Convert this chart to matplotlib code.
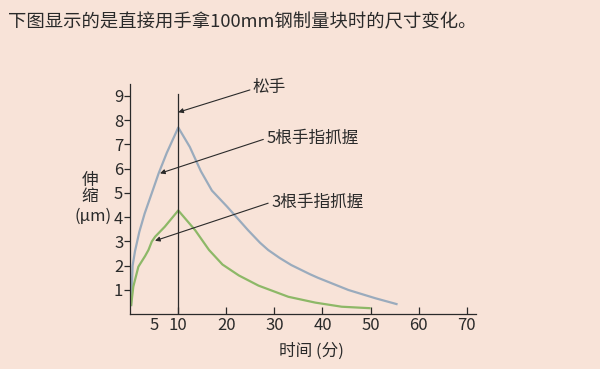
import matplotlib
matplotlib.use("Agg")
import matplotlib.pyplot as plt

plt.rcParams['font.family'] = ['Noto Sans CJK SC', 'DejaVu Sans']

BG = "#f8e3d8"
INK = "#2a2a2a"

# 5根手指抓握 (grey-blue curve)
five_t = [0.2, 0.5, 1.0, 1.9, 3.0, 4.5, 5.9, 7.6, 10,
          12.4, 14.7, 17.0, 20.1, 22.8, 24.5, 27.0, 28.7, 31.1, 33.5,
          37.4, 39.1, 45.4, 51.0, 55.4]
five_v = [0.38, 2.0, 2.6, 3.4, 4.15, 5.0, 5.8, 6.65, 7.7,
          6.9, 5.9, 5.1, 4.45, 3.85, 3.47, 2.95, 2.65, 2.32, 2.03,
          1.65, 1.5, 1.0, 0.66, 0.42]

# 3根手指抓握 (green curve)
three_t = [0.2, 0.65, 1.7, 3.1, 3.8, 4.5, 5.2, 7.2, 10,
           13.5, 16.4, 19.2, 22.6, 26.7, 32.9, 38.5, 44.0, 49.8]
three_v = [0.38, 1.14, 1.96, 2.4, 2.65, 3.0, 3.2, 3.61, 4.28,
           3.47, 2.65, 2.05, 1.6, 1.18, 0.72, 0.48, 0.31, 0.25]

x_ticks = [5, 10, 20, 30, 40, 50, 60, 70]
y_ticks = [1, 2, 3, 4, 5, 6, 7, 8, 9]
release_t = 10

fig = plt.figure(figsize=(6, 3.69), dpi=100, facecolor=BG)
ax = fig.add_axes([0.217, 0.1484, 0.5768, 0.6243])
ax.set_facecolor(BG)

ax.plot(five_t, five_v, color="#9aabbd", lw=1.6, solid_joinstyle="round")
ax.plot(three_t, three_v, color="#8db867", lw=1.6, solid_joinstyle="round")
ax.plot([release_t, release_t], [0, 9.1], color=INK, lw=0.9)

ax.set_xlim(0, 72)
ax.set_ylim(0, 9.5)
for s in ["top", "right"]:
    ax.spines[s].set_visible(False)
for s in ["left", "bottom"]:
    ax.spines[s].set_color(INK)
    ax.spines[s].set_linewidth(0.9)

ax.set_xticks(x_ticks)
ax.set_yticks(y_ticks)
ax.tick_params(axis="x", direction="in", length=5, width=0.9, color=INK,
               labelsize=12, labelcolor=INK, pad=2)
ax.tick_params(axis="y", direction="out", length=4, width=0.9, color=INK,
               labelsize=12, labelcolor=INK, pad=1)
ax.xaxis.get_major_ticks()[0].tick1line.set_visible(False)

arrow = dict(arrowstyle="-|>", lw=0.8, color=INK, mutation_scale=7,
             shrinkA=0, shrinkB=0)
notes = [
    ("松手", (10, 8.33), (24.9, 9.25), (25.5, 9.33)),
    ("5根手指抓握", (6.2, 5.81), (27.7, 7.21), (28.3, 7.27)),
    ("3根手指抓握", (5.16, 3.03), (28.7, 4.58), (29.3, 4.6)),
]
for label, end, start, txt in notes:
    ax.annotate("", xy=end, xytext=start, arrowprops=arrow, annotation_clip=False)
    ax.text(txt[0], txt[1], label, fontsize=12, color=INK, ha="left", va="center",
            clip_on=False)

fig.text(8 / 600, 1 - 22 / 369, "下图显示的是直接用手拿100mm钢制量块时的尺寸变化。",
         fontsize=13.2, color=INK, ha="left", va="center")
fig.text(90 / 600, 1 - 180 / 369, "伸", fontsize=12, color=INK, ha="center", va="center")
fig.text(90 / 600, 1 - 197 / 369, "缩", fontsize=12, color=INK, ha="center", va="center")
fig.text(112 / 600, 1 - 216 / 369, "(μm)", fontsize=12, color=INK, ha="right", va="center")
fig.text(311 / 600, 1 - 351 / 369, "时间 (分)", fontsize=12, color=INK, ha="center", va="center")

fig.savefig("out.png", dpi=100, facecolor=BG)
